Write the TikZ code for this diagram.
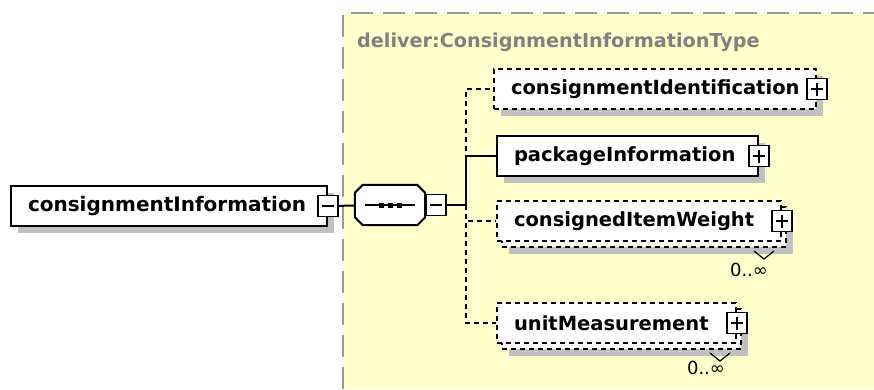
\documentclass[tikz,border=0pt]{standalone}
\usepackage{fontspec}
\setmainfont{DejaVu Sans}
\usetikzlibrary{shadows, positioning, calc}
\definecolor{typebg}{RGB}{255,255,204}
\definecolor{shgrey}{RGB}{192,192,192}
\definecolor{typegrey}{RGB}{128,128,128}

\begin{document}
\begin{tikzpicture}[
  x=1pt, y=-1pt,
  shade/.style={drop shadow={shadow xshift=7pt, shadow yshift=-7pt, fill=shgrey, opacity=1}},
  elembase/.style={draw, fill=white, line width=2pt, minimum height=40pt, inner xsep=17pt, inner ysep=0pt,
    anchor=north west, align=left, font=\fontsize{19.5}{22}\selectfont\bfseries},
  elem/.style={elembase, shade},
  optelem/.style={elem, dash pattern=on 5pt off 4pt},
  optfront/.style={elembase, dash pattern=on 5pt off 4pt},
  pmbox/.style={draw, solid, fill=white, line width=1.6pt, minimum width=20pt, minimum height=21pt, inner sep=0pt},
  minusbox/.style={pmbox, path picture={\draw[line width=1.6pt] ([xshift=4pt]path picture bounding box.west) -- ([xshift=-4pt]path picture bounding box.east);}},
  plusbox/.style={pmbox, path picture={\draw[line width=1.6pt] ([xshift=4pt]path picture bounding box.west) -- ([xshift=-4pt]path picture bounding box.east)
    ([yshift=-4pt]path picture bounding box.north) -- ([yshift=4pt]path picture bounding box.south);}},
  conn/.style={line width=2pt},
  optconn/.style={conn, dash pattern=on 5pt off 4pt},
  occurs/.style={font=\fontsize{18}{20}\selectfont}
  ]
  \useasboundingbox (0,0) rectangle (874,389);
  % complex type area
  \fill[typebg] (343,13) rectangle (874,389);
  \draw[typegrey!80, line width=2pt, dash pattern=on 22pt off 10pt] (343,389) -- (343,13) -- (874,13);
  \node[anchor=west, text=typegrey, font=\fontsize{19.2}{22}\selectfont\bfseries, inner sep=0pt] (tname) at (357,42) {deliver:ConsignmentInformationType};

  % root element
  \node[elem, text width=282pt, font=\fontsize{20}{23}\selectfont\bfseries] (cinfo) at (10,185) {consignmentInformation};
  \node[minusbox] (cinfominus) at (cinfo.east) {};

  % sequence
  \coordinate (seq) at (390,205);
  \node[minimum width=70pt, minimum height=40pt, inner sep=0pt] (seqbox) at (seq) {};
  \fill[shgrey, shift={(7pt,-7pt)}] ([xshift=8pt]seqbox.north west) -- ([xshift=-8pt]seqbox.north east) -- ([yshift=-8pt]seqbox.north east)
    -- ([yshift=8pt]seqbox.south east) -- ([xshift=-8pt]seqbox.south east) -- ([xshift=8pt]seqbox.south west)
    -- ([yshift=8pt]seqbox.south west) -- ([yshift=-8pt]seqbox.north west) -- cycle;
  \draw[fill=white, line width=2pt] ([xshift=8pt]seqbox.north west) -- ([xshift=-8pt]seqbox.north east) -- ([yshift=-8pt]seqbox.north east)
    -- ([yshift=8pt]seqbox.south east) -- ([xshift=-8pt]seqbox.south east) -- ([xshift=8pt]seqbox.south west)
    -- ([yshift=8pt]seqbox.south west) -- ([yshift=-8pt]seqbox.north west) -- cycle;
  \draw[line width=2pt] ([xshift=10pt]seqbox.west) -- ([xshift=-10pt]seqbox.east);
  \foreach \dx in {-9,0,9}
    \fill ([xshift=\dx pt]seqbox.center) +(-2.5pt,-2.5pt) rectangle +(2.5pt,2.5pt);
  \node[minusbox, anchor=west] (seqminus) at (seqbox.east) {};
  \coordinate (bus) at (466,205);

  % children
  \node[optelem, text width=288pt] (cident) at (493,68) {consignmentIdentification};
  \node[plusbox] (cidentplus) at (cident.east) {};

  \node[elem, text width=227pt] (pinfo) at (496,135) {packageInformation};
  \node[plusbox] (pinfoplus) at (pinfo.east) {};

  \node[optelem, minimum width=284pt] (cweightback) at (501,206) {};
  \node[optfront, text width=250pt] (cweight) at (496,200) {consignedItemWeight};
  \node[plusbox] (cweightplus) at (cweight.east) {};
  \draw[line width=1.2pt] ([xshift=-23pt]cweightback.south east) ++(-10pt,-3pt) -- ++(10pt,-8pt) -- ++(10pt,8pt);
  \node[occurs] (cweightocc) at (749,270) {0..∞};

  \node[optelem, minimum width=239pt] (unitmback) at (501,308) {};
  \node[optfront, text width=205pt] (unitm) at (496,302) {unitMeasurement};
  \node[plusbox] (unitmplus) at (unitm.east) {};
  \draw[line width=1.2pt] ([xshift=-22pt]unitmback.south east) ++(-10pt,-3pt) -- ++(10pt,-8pt) -- ++(10pt,8pt);
  \node[occurs] (unitmocc) at (706,368) {0..∞};

  % connectors
  \draw[conn] (cinfominus) -- (seqbox);
  \draw[conn] (seqminus) -- (bus);
  \draw[optconn] (bus) |- (cident.west);
  \draw[optconn] (bus) |- (cweight.west);
  \draw[optconn] (bus) |- (unitm.west);
  \draw[conn] (bus) |- (pinfo.west);
\end{tikzpicture}
\end{document}
